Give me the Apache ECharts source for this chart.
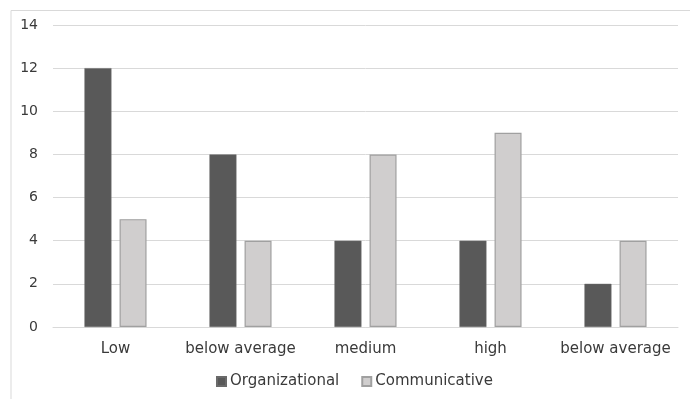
<!DOCTYPE html>
<html><head><meta charset="utf-8">
<script src="https://cdn.jsdelivr.net/npm/echarts@6/dist/echarts.min.js"></script>
<style>html,body{margin:0;padding:0;background:#fff}#c{width:690px;height:399px}</style>
</head><body><div id="c"></div>
<script>
const categories = ['Low', 'below average', 'medium', 'high', 'below average'];
const organizational = [12, 8, 4, 4, 2];
const communicative = [5, 4, 8, 9, 4];
const yTicks = { min: 0, max: 14, interval: 2 };

const chart = echarts.init(document.getElementById('c'));
const font = 'DejaVu Sans';
chart.setOption({
  animation: false,
  graphic: [{
    type: 'rect', left: 8.5, top: 8, silent: true,
    shape: { width: 720, height: 420 },
    style: { fill: 'none', stroke: '#d9d9d9', lineWidth: 1 }
  }],
  grid: { left: 53, right: 12, top: 25, bottom: 72 },
  legend: {
    bottom: 5, left: 211, itemWidth: 9, itemHeight: 9, itemGap: 22,
    icon: 'rect',
    textStyle: { fontFamily: font, fontSize: 15, color: '#3a3a3a', padding: [0, 0, 0, -1] },
    data: ['Organizational', 'Communicative']
  },
  xAxis: {
    type: 'category', data: categories,
    axisLine: { lineStyle: { color: '#d9d9d9' } },
    axisTick: { show: false },
    axisLabel: { fontFamily: font, fontSize: 15, color: '#3a3a3a', margin: 15, interval: 0 }
  },
  yAxis: {
    type: 'value', min: yTicks.min, max: yTicks.max, interval: yTicks.interval,
    axisLine: { show: false }, axisTick: { show: false },
    axisLabel: { fontFamily: font, fontSize: 14, color: '#3a3a3a', margin: 15 },
    splitLine: { lineStyle: { color: '#d9d9d9' } }
  },
  series: [
    { name: 'Organizational', type: 'bar', data: organizational, barWidth: '21.6%', barGap: '30%',
      itemStyle: { color: '#595959', borderColor: '#6a6a6a', borderWidth: 0.5 } },
    { name: 'Communicative', type: 'bar', data: communicative, barWidth: '21.6%',
      itemStyle: { color: '#d0cece', borderColor: '#a0a0a0', borderWidth: 1.2 } }
  ]
});
</script></body></html>
